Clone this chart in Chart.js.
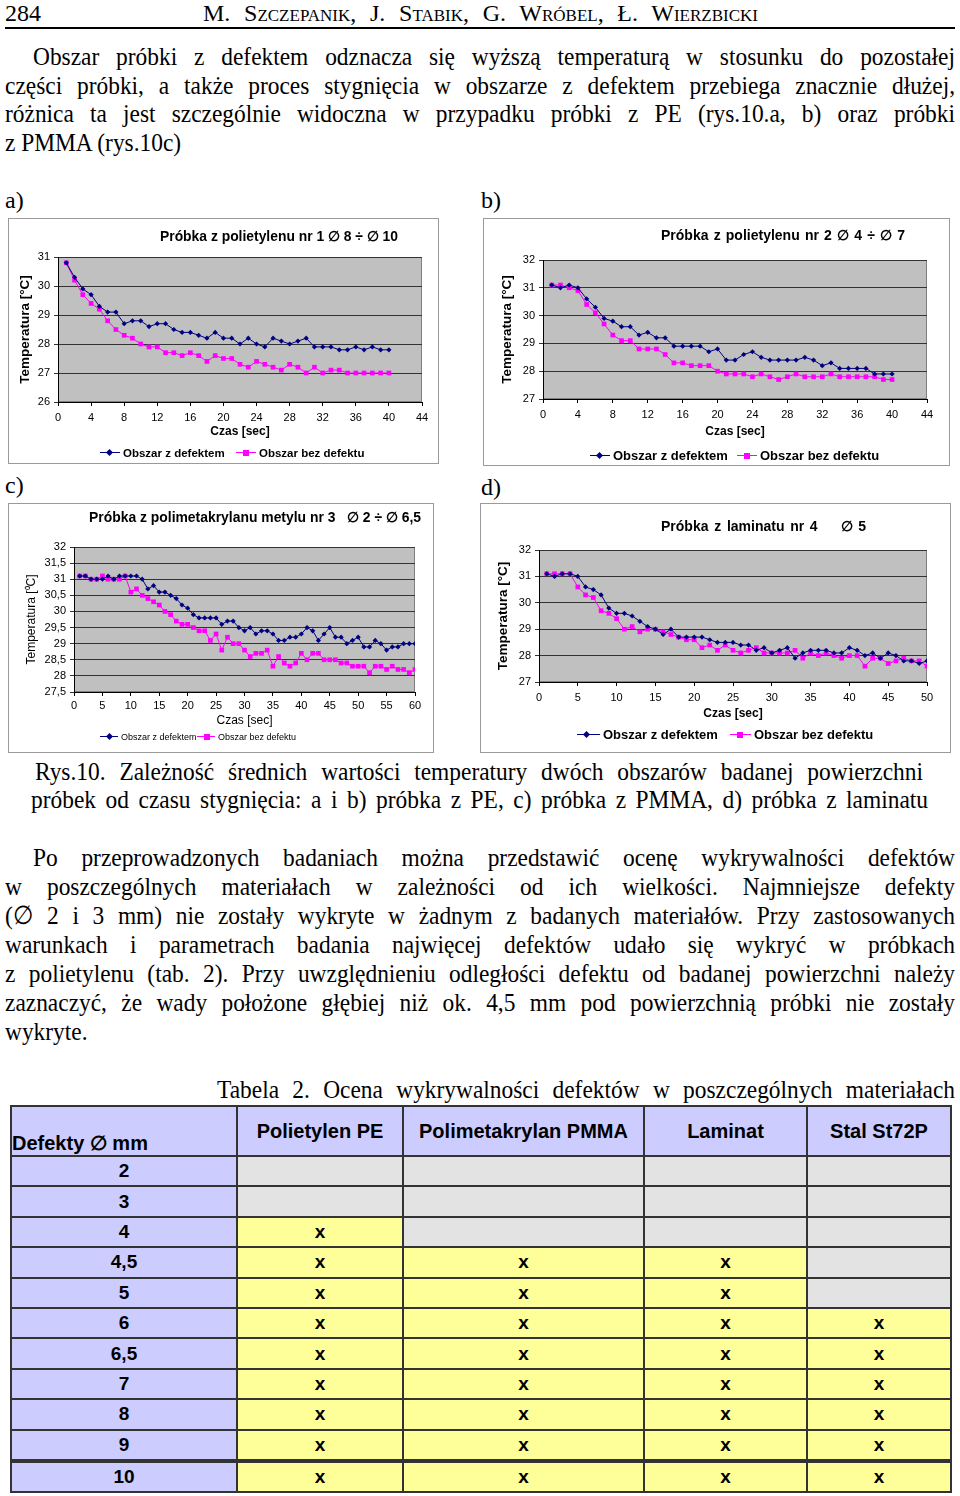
<!DOCTYPE html>
<html lang="pl">
<head>
<meta charset="utf-8">
<script src="https://cdn.jsdelivr.net/npm/chart.js@4.4.1/dist/chart.umd.min.js"></script>
<style>
  html,body{margin:0;padding:0;background:#fff;}
  body{width:960px;height:1496px;position:relative;overflow:hidden;font-family:'Liberation Serif','Times New Roman',serif;color:#000;}
  .t{position:absolute;white-space:nowrap;font-size:24px;line-height:28px;}
  .p{font-size:26px;}
  .frame{position:absolute;box-sizing:border-box;border:1px solid #9a9a9a;background:#fff;}
  .frame canvas{display:block;}
  .ct{position:absolute;white-space:nowrap;font-family:'Liberation Sans',Arial,sans-serif;font-weight:bold;font-size:14px;line-height:16px;}
  .lg{position:absolute;white-space:nowrap;font-family:'Liberation Sans',Arial,sans-serif;line-height:14px;}
  .ic{display:inline-block;width:20px;height:1px;vertical-align:middle;position:relative;margin-right:3px;top:-1px;}
  .ic.nav{background:#000080;}
  .ic.nav::after{content:'';position:absolute;left:7px;top:-2.5px;width:5px;height:5px;background:#000080;transform:rotate(45deg);}
  .ic.mag{background:#ff00ff;}
  .ic.mag::after{content:'';position:absolute;left:7px;top:-2.5px;width:6px;height:6px;background:#ff00ff;}
  table.tb{position:absolute;left:10px;top:1105px;border-collapse:collapse;table-layout:fixed;font-family:'Liberation Sans',Arial,sans-serif;font-weight:bold;font-size:19px;}
  table.tb td{border:2px solid #333;text-align:center;padding:0;}
  table.tb tr.h td{height:48px;background:#ccccff;font-size:20px;}
  table.tb tr.r td{height:28.4px;}
  table.tb td.lab{background:#ccccff;}
  table.tb td.yes{background:#ffff99;}
  table.tb td.no{background:#e3e3e3;}
  table.tb td.corner{background:#fff linear-gradient(to top right, transparent calc(50% - 1px), #333 50%, transparent calc(50% + 1px));text-align:left;vertical-align:bottom;font-size:19px;}
</style>
</head>
<body>

<!-- header -->
<div class="t" style="left:5px;top:-1px;">284</div>
<div class="t j" data-w="555" style="left:203px;top:-1px;font-variant:small-caps;">M. Szczepanik, J. Stabik, G. Wróbel, Ł. Wierzbicki</div>
<div style="position:absolute;left:5px;top:27px;width:950px;height:2px;background:#000;"></div>

<!-- paragraph 1 -->
<div class="t p j" data-w="922" style="left:33px;top:43px;">Obszar próbki z defektem odznacza się wyższą temperaturą w stosunku do pozostałej</div>
<div class="t p j" data-w="950" style="left:5px;top:72px;">części próbki, a także proces stygnięcia w obszarze z defektem przebiega znacznie dłużej,</div>
<div class="t p j" data-w="950" style="left:5px;top:100px;">różnica ta jest szczególnie widoczna w przypadku próbki z PE (rys.10.a, b) oraz próbki</div>
<div class="t p j" data-w="0" style="left:5px;top:129px;">z PMMA (rys.10c)</div>

<!-- panel labels -->
<div class="t" style="left:5px;top:186px;">a)</div>
<div class="t" style="left:481px;top:186px;">b)</div>
<div class="t" style="left:5px;top:471px;">c)</div>
<div class="t" style="left:481px;top:473px;">d)</div>

<!-- chart frames -->
<div class="frame" style="left:8px;top:218px;width:431px;height:246px;"><canvas id="chA" width="429" height="244"></canvas></div>
<div class="frame" style="left:483px;top:218px;width:467px;height:248px;"><canvas id="chB" width="465" height="246"></canvas></div>
<div class="frame" style="left:8px;top:503px;width:426px;height:250px;"><canvas id="chC" width="424" height="248"></canvas></div>
<div class="frame" style="left:480px;top:503px;width:471px;height:250px;"><canvas id="chD" width="469" height="248"></canvas></div>

<!-- chart titles -->
<div class="ct j" data-w="238" style="left:160px;top:228px;">Próbka z polietylenu nr 1 ∅ 8 ÷ ∅ 10</div>
<div class="ct j" data-w="244" style="left:661px;top:227px;">Próbka z polietylenu nr 2 ∅ 4 ÷ ∅ 7</div>
<div class="ct j" data-w="332" style="left:89px;top:509px;">Próbka z polimetakrylanu metylu nr 3 &nbsp; ∅ 2 ÷ ∅ 6,5</div>
<div class="ct j" data-w="205" style="left:661px;top:518px;">Próbka z laminatu nr 4 &nbsp;&nbsp; ∅ 5</div>

<!-- legends -->
<div class="lg" style="left:100px;top:446px;font-size:11.5px;font-weight:bold;"><span class="ic nav"></span>Obszar z defektem</div>
<div class="lg" style="left:236px;top:446px;font-size:11.5px;font-weight:bold;"><span class="ic mag"></span>Obszar bez defektu</div>
<div class="lg" style="left:590px;top:449px;font-size:13px;font-weight:bold;"><span class="ic nav"></span>Obszar z defektem</div>
<div class="lg" style="left:737px;top:449px;font-size:13px;font-weight:bold;"><span class="ic mag"></span>Obszar bez defektu</div>
<div class="lg" style="left:100px;top:730px;font-size:9px;"><span class="ic nav" style="width:18px"></span>Obszar z defektem</div>
<div class="lg" style="left:197px;top:730px;font-size:9px;"><span class="ic mag" style="width:18px"></span>Obszar bez defektu</div>
<div class="lg" style="left:577px;top:728px;font-size:13px;font-weight:bold;"><span class="ic nav" style="width:23px"></span>Obszar z defektem</div>
<div class="lg" style="left:730px;top:728px;font-size:13px;font-weight:bold;"><span class="ic mag" style="width:21px"></span>Obszar bez defektu</div>

<!-- figure caption -->
<div class="t p j" data-w="888" style="left:35px;top:758px;">Rys.10. Zależność średnich wartości temperatury dwóch obszarów badanej powierzchni</div>
<div class="t p j" data-w="897" style="left:31px;top:786px;">próbek od czasu stygnięcia: a i b) próbka z PE, c) próbka z PMMA, d) próbka z laminatu</div>

<!-- paragraph 2 -->
<div class="t p j" data-w="922" style="left:33px;top:844px;">Po przeprowadzonych badaniach można przedstawić ocenę wykrywalności defektów</div>
<div class="t p j" data-w="950" style="left:5px;top:873px;">w poszczególnych materiałach w zależności od ich wielkości. Najmniejsze defekty</div>
<div class="t p j" data-w="950" style="left:5px;top:902px;">(∅ 2 i 3 mm) nie zostały wykryte w żadnym z badanych materiałów. Przy zastosowanych</div>
<div class="t p j" data-w="950" style="left:5px;top:931px;">warunkach i parametrach badania najwięcej defektów udało się wykryć w próbkach</div>
<div class="t p j" data-w="950" style="left:5px;top:960px;">z polietylenu (tab. 2). Przy uwzględnieniu odległości defektu od badanej powierzchni należy</div>
<div class="t p j" data-w="950" style="left:5px;top:989px;">zaznaczyć, że wady położone głębiej niż ok. 4,5 mm pod powierzchnią próbki nie zostały</div>
<div class="t p j" data-w="0" style="left:5px;top:1018px;">wykryte.</div>

<!-- table caption -->
<div class="t p j" data-w="738" style="left:217px;top:1076px;">Tabela 2. Ocena wykrywalności defektów w poszczególnych materiałach</div>

<table class="tb" id="tbl">
  <colgroup><col style="width:226px"><col style="width:166px"><col style="width:241px"><col style="width:163px"><col style="width:144px"></colgroup>
</table>

<script>
// ---------------- DATA ----------------
const seriesNames = ['Obszar z defektem', 'Obszar bez defektu'];

// a) Próbka z polietylenu nr 1
const timeA = [1,2,3,4,5,6,7,8,9,10,11,12,13,14,15,16,17,18,19,20,21,22,23,24,25,26,27,28,29,30,31,32,33,34,35,36,37,38,39,40];
const defA = [30.8,30.3,29.9,29.7,29.3,29.1,29.1,28.7,28.8,28.8,28.6,28.7,28.7,28.5,28.4,28.4,28.3,28.2,28.4,28.2,28.2,28.0,28.2,28.0,27.9,28.2,28.1,28.0,28.1,28.2,27.9,27.9,27.9,27.8,27.8,27.9,27.8,27.9,27.8,27.8];
const noDefA = [30.8,30.2,29.7,29.4,29.2,28.8,28.5,28.3,28.2,28.0,27.9,27.9,27.7,27.7,27.6,27.7,27.6,27.4,27.6,27.5,27.5,27.3,27.2,27.4,27.3,27.2,27.1,27.3,27.2,27.0,27.2,27.0,27.1,27.1,27.0,27.0,27.0,27.0,27.0,27.0];
const xTicksA = ['0','4','8','12','16','20','24','28','32','36','40','44'];
const yTicksA = ['26','27','28','29','30','31'];

// b) Próbka z polietylenu nr 2
const timeB = [1,2,3,4,5,6,7,8,9,10,11,12,13,14,15,16,17,18,19,20,21,22,23,24,25,26,27,28,29,30,31,32,33,34,35,36,37,38,39,40];
const defB = [31.1,31.0,31.1,31.0,30.6,30.3,29.9,29.8,29.6,29.6,29.3,29.4,29.2,29.2,28.9,28.9,28.9,28.9,28.7,28.8,28.4,28.4,28.6,28.7,28.5,28.4,28.4,28.4,28.4,28.5,28.4,28.2,28.3,28.1,28.1,28.1,28.1,27.9,27.9,27.9];
const noDefB = [31.1,31.1,31.0,30.9,30.4,30.1,29.7,29.3,29.1,29.1,28.8,28.8,28.8,28.6,28.3,28.3,28.2,28.2,28.2,28.0,27.9,27.9,27.9,27.8,27.9,27.8,27.7,27.8,27.9,27.8,27.8,27.8,27.9,27.8,27.8,27.8,27.8,27.8,27.7,27.7];
const xTicksB = ['0','4','8','12','16','20','24','28','32','36','40','44'];
const yTicksB = ['27','28','29','30','31','32'];

// c) Próbka z polimetakrylanu metylu nr 3
const timeC = [1,2,3,4,5,6,7,8,9,10,11,12,13,14,15,16,17,18,19,20,21,22,23,24,25,26,27,28,29,30,31,32,33,34,35,36,37,38,39,40,41,42,43,44,45,46,47,48,49,50,51,52,53,54,55,56,57,58,59,60];
const defC = [31.1,31.1,31.0,31.0,31.0,31.1,31.0,31.1,31.1,31.1,31.1,31.0,30.7,30.8,30.6,30.6,30.5,30.4,30.2,30.1,29.9,29.8,29.8,29.8,29.8,29.6,29.7,29.7,29.5,29.4,29.5,29.3,29.4,29.4,29.3,29.1,29.1,29.2,29.2,29.3,29.5,29.4,29.1,29.3,29.5,29.2,29.2,29.0,29.1,29.2,28.9,28.9,29.1,29.0,28.8,28.9,28.9,29.0,29.0,29.0];
const noDefC = [31.1,31.1,31.0,31.0,31.1,31.0,31.0,31.0,31.1,30.6,30.7,30.5,30.4,30.3,30.2,30.0,29.9,29.7,29.6,29.6,29.5,29.4,29.4,29.1,29.3,28.8,29.2,29.0,29.0,28.8,28.6,28.7,28.7,28.8,28.3,28.6,28.4,28.3,28.4,28.7,28.5,28.7,28.7,28.5,28.5,28.5,28.4,28.4,28.3,28.3,28.3,28.1,28.3,28.3,28.2,28.3,28.2,28.2,28.1,28.2];
const xTicksC = ['0','5','10','15','20','25','30','35','40','45','50','55','60'];
const yTicksC = ['27,5','28','28,5','29','29,5','30','30,5','31','31,5','32'];

// d) Próbka z laminatu nr 4
const timeD = [1,2,3,4,5,6,7,8,9,10,11,12,13,14,15,16,17,18,19,20,21,22,23,24,25,26,27,28,29,30,31,32,33,34,35,36,37,38,39,40,41,42,43,44,45,46,47,48,49,50];
const defD = [31.1,31.0,31.1,31.1,31.0,30.6,30.5,30.3,29.8,29.6,29.6,29.5,29.3,29.1,29.0,28.8,29.0,28.7,28.7,28.7,28.7,28.6,28.5,28.5,28.5,28.4,28.4,28.2,28.3,28.1,28.2,28.3,27.9,28.1,28.2,28.2,28.2,28.1,28.1,28.3,28.2,28.0,28.1,27.9,28.1,28.0,27.8,27.8,27.7,27.8];
const noDefD = [31.1,31.1,31.1,31.1,30.6,30.3,30.2,29.7,29.6,29.4,29.0,29.1,28.9,29.0,29.0,28.9,28.8,28.7,28.6,28.6,28.3,28.4,28.2,28.4,28.2,28.1,28.2,28.3,28.1,28.1,28.1,28.1,28.2,27.9,28.1,28.0,28.1,28.0,27.9,28.0,28.0,27.6,27.9,27.9,27.7,27.8,27.9,27.8,27.8,27.6];
const xTicksD = ['0','5','10','15','20','25','30','35','40','45','50'];
const yTicksD = ['27','28','29','30','31','32'];

// Table 2
const tableCorner = 'Defekty ∅ mm';
const materials = ['Polietylen PE', 'Polimetakrylan PMMA', 'Laminat', 'Stal St72P'];
const defectSizes = ['2','3','4','4,5','5','6','6,5','7','8','9','10'];
const detected = [
  [0,0,0,0],
  [0,0,0,0],
  [1,0,0,0],
  [1,1,1,0],
  [1,1,1,0],
  [1,1,1,1],
  [1,1,1,1],
  [1,1,1,1],
  [1,1,1,1],
  [1,1,1,1],
  [1,1,1,1]
];

// ---------------- TEXT JUSTIFY ----------------
document.querySelectorAll('.j').forEach(el => {
  const target = +el.dataset.w;
  const isP = el.classList.contains('p');
  const s0 = isP ? 0.9 : 1;
  const w = el.getBoundingClientRect().width;
  const spaces = (el.textContent.match(/[ \u00a0]/g) || []).length;
  el.style.transformOrigin = '0 0';
  if (!target) { el.style.transform = 'scaleX(' + s0 + ')'; return; }
  if (w * s0 > target) {
    el.style.transform = 'scaleX(' + (target / w) + ')';
  } else {
    el.style.transform = 'scaleX(' + s0 + ')';
    if (spaces) el.style.wordSpacing = ((target - w * s0) / (spaces * s0)) + 'px';
  }
});

// ---------------- TABLE ----------------
(function () {
  const tbl = document.getElementById('tbl');
  const hr = document.createElement('tr'); hr.className = 'h';
  const c0 = document.createElement('td'); c0.className = 'corner'; c0.textContent = tableCorner; hr.appendChild(c0);
  materials.forEach(m => { const td = document.createElement('td'); td.textContent = m; hr.appendChild(td); });
  tbl.appendChild(hr);
  defectSizes.forEach((s, i) => {
    const tr = document.createElement('tr'); tr.className = 'r';
    if (i === defectSizes.length - 1) tr.style.borderTop = '4px solid #333';
    const l = document.createElement('td'); l.className = 'lab'; l.textContent = s; tr.appendChild(l);
    detected[i].forEach(v => { const td = document.createElement('td'); td.className = v ? 'yes' : 'no'; td.textContent = v ? 'x' : ''; tr.appendChild(td); });
    tbl.appendChild(tr);
  });
})();

// ---------------- CHARTS ----------------
Chart.defaults.font.family = "'Liberation Sans', Arial, sans-serif";
Chart.defaults.color = '#000';

const plotBg = {
  id: 'plotBg',
  beforeDraw(chart) {
    const { ctx, chartArea: { left, top, width, height } } = chart;
    ctx.save();
    ctx.fillStyle = '#c0c0c0';
    ctx.fillRect(left, top, width, height);
    ctx.strokeStyle = '#808080';
    ctx.lineWidth = 1;
    ctx.strokeRect(left + 0.5, top + 0.5, width - 1, height - 1);
    ctx.restore();
  }
};

function pts(xs, ys) { return xs.map((x, i) => ({ x: x, y: ys[i] })); }

function makeChart(id, c) {
  new Chart(document.getElementById(id), {
    type: 'line',
    data: {
      datasets: [
        { label: seriesNames[0], data: pts(c.time, c.def), borderColor: '#000080', backgroundColor: '#000080',
          borderWidth: 1, pointStyle: 'rectRot', pointRadius: 2.6, pointBorderWidth: 0, tension: 0 },
        { label: seriesNames[1], data: pts(c.time, c.noDef), borderColor: '#ff00ff', backgroundColor: '#ff00ff',
          borderWidth: 1, pointStyle: 'rect', pointRadius: 3.3, pointBorderWidth: 0, tension: 0 }
      ]
    },
    options: {
      responsive: false, animation: false, devicePixelRatio: 1,
      layout: { padding: { left: 0, top: c.padTop, right: c.padRight, bottom: 0 } },
      plugins: { legend: { display: false }, title: { display: false }, tooltip: { enabled: false } },
      scales: {
        x: {
          type: 'linear', min: c.xMin, max: c.xMax,
          ticks: { stepSize: c.xStep, autoSkip: false, maxRotation: 0, padding: c.xTickPad,
                   font: { size: 11 }, callback: (v, i) => c.xTicks[i] },
          grid: { drawOnChartArea: false, drawTicks: true, tickLength: 4, color: '#000' },
          border: { color: '#000', width: 1 },
          title: { display: true, text: 'Czas [sec]', font: { size: 12, weight: c.titleWeight },
                   padding: { top: 0, bottom: c.xTitlePad } },
          afterFit(s) { s.height = c.xH; }
        },
        y: {
          type: 'linear', min: c.yMin, max: c.yMax,
          ticks: { stepSize: c.yStep, autoSkip: false, padding: 4, font: { size: 11 },
                   callback: (v, i) => c.yTicks[i] },
          grid: { color: '#333', lineWidth: 1, tickLength: 4 },
          border: { color: '#000', width: 1 },
          title: { display: true, text: c.yTitle, font: { size: c.yTitleSize, weight: c.titleWeight },
                   padding: { top: c.yTitlePad, bottom: 0 } },
          afterFit(s) { s.width = c.yW; }
        }
      }
    },
    plugins: [plotBg]
  });
}

makeChart('chA', { time: timeA, def: defA, noDef: noDefA, xTicks: xTicksA, yTicks: yTicksA,
  xMin: 0, xMax: 44, xStep: 4, yMin: 26, yMax: 31, yStep: 1,
  padTop: 38, padRight: 16, yW: 49, xH: 61, yTitlePad: 8.2, xTitlePad: 23.8, xTickPad: 5,
  titleWeight: 'bold', yTitleSize: 13.5, yTitle: 'Temperatura [°C]' });

makeChart('chB', { time: timeB, def: defB, noDef: noDefB, xTicks: xTicksB, yTicks: yTicksB,
  xMin: 0, xMax: 44, xStep: 4, yMin: 27, yMax: 32, yStep: 1,
  padTop: 41, padRight: 22, yW: 59, xH: 66, yTitlePad: 15, xTitlePad: 25.8, xTickPad: 5,
  titleWeight: 'bold', yTitleSize: 13.5, yTitle: 'Temperatura [°C]' });

makeChart('chC', { time: timeC, def: defC, noDef: noDefC, xTicks: xTicksC, yTicks: yTicksC,
  xMin: 0, xMax: 60, xStep: 5, yMin: 27.5, yMax: 32, yStep: 0.5,
  padTop: 43, padRight: 18, yW: 65, xH: 60, yTitlePad: 15.8, xTitlePad: 23.8, xTickPad: 3,
  titleWeight: 'normal', yTitleSize: 12, yTitle: 'Temperatura [⁰C]' });

makeChart('chD', { time: timeD, def: defD, noDef: noDefD, xTicks: xTicksD, yTicks: yTicksD,
  xMin: 0, xMax: 50, xStep: 5, yMin: 27, yMax: 32, yStep: 1,
  padTop: 46, padRight: 23, yW: 58, xH: 70, yTitlePad: 14, xTitlePad: 30.8, xTickPad: 5,
  titleWeight: 'bold', yTitleSize: 13.5, yTitle: 'Temperatura [°C]' });
</script>
</body>
</html>
